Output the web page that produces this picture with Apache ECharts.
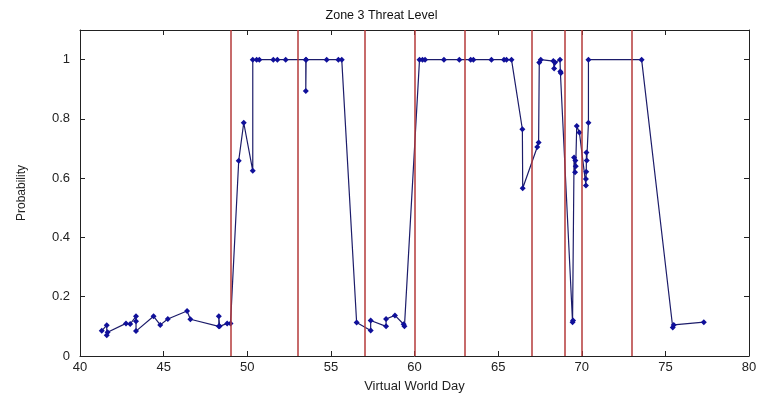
<!DOCTYPE html>
<html>
<head>
<meta charset="utf-8">
<script src="https://cdn.jsdelivr.net/npm/echarts@6/dist/echarts.min.js"></script>
<style>
html,body{margin:0;padding:0;background:#fff;}
#chart{width:763px;height:398px;}
</style>
</head>
<body>
<div id="chart"></div>
<script>
const title = "Zone 3 Threat Level";
const xLabel = "Virtual World Day";
const yLabel = "Probability";

const days = [41.3, 41.6, 41.6, 41.65, 42.75, 43.0, 43.35, 43.35, 43.35, 44.4, 44.8, 45.25, 46.4, 46.6,
  48.3, 48.3, 48.35, 48.8, 49.0, 49.49, 49.79, 50.33, 50.33, 50.56, 50.72, 51.56, 51.8, 52.3,
  53.5, 53.5, 53.52, 54.75, 55.45, 55.65, 56.54, 57.38, 57.38, 58.3, 58.3, 58.83, 59.35, 59.4,
  60.3, 60.48, 60.63, 61.76, 62.68, 63.36, 63.52, 64.6, 65.35, 65.5, 65.8,
  66.45, 66.47, 67.34, 67.42, 67.46, 67.55, 68.3, 68.35, 68.4, 68.7, 68.72, 68.75,
  69.45, 69.48, 69.54, 69.6, 69.62, 69.64, 69.7, 69.86, 70.25, 70.25, 70.27, 70.28, 70.3, 70.4, 70.4,
  73.58, 75.44, 75.5, 77.3];
const probs = [0.085, 0.104, 0.07, 0.08, 0.11, 0.108, 0.134, 0.117, 0.084, 0.134, 0.105, 0.125, 0.152, 0.124,
  0.1, 0.134, 0.1, 0.11, 0.11, 0.659, 0.787, 0.625, 1.0, 1.0, 1.0, 1.0, 1.0, 1.0,
  1.0, 0.894, 1.0, 1.0, 1.0, 1.0, 0.113, 0.086, 0.12, 0.1, 0.125, 0.137, 0.107, 0.1,
  1.0, 1.0, 1.0, 1.0, 1.0, 1.0, 1.0, 1.0, 1.0, 1.0, 1.0,
  0.765, 0.566, 0.705, 0.72, 0.99, 1.0, 0.995, 0.97, 0.99, 1.0, 0.96, 0.955,
  0.114, 0.12, 0.67, 0.62, 0.66, 0.64, 0.776, 0.754, 0.575, 0.597, 0.622, 0.687, 0.66, 0.787, 1.0,
  1.0, 0.096, 0.105, 0.114];
const redLines = [49, 53, 57, 60, 63, 67, 69, 70, 73];
const xTicks = [40, 45, 50, 55, 60, 65, 70, 75, 80];
const yTicks = [0, 0.2, 0.4, 0.6, 0.8, 1];

const chart = echarts.init(document.getElementById('chart'));
const font = '"Liberation Sans", Arial, sans-serif';
const tickStyle = {show: true, inside: true, length: 5, lineStyle: {color: '#222', width: 1}};
chart.setOption({
  animation: false,
  backgroundColor: '#fff',
  title: {text: title, left: 'center', top: 4, textStyle: {fontFamily: font, fontSize: 12.5, fontWeight: 'normal', color: '#111'}},
  grid: {left: 80, right: 14, top: 30, bottom: 40},
  xAxis: [{
    type: 'value', min: xTicks[0], max: xTicks[xTicks.length - 1], interval: 5,
    name: xLabel, nameLocation: 'middle', nameGap: 24,
    nameTextStyle: {fontFamily: font, fontSize: 13, color: '#222'},
    axisLine: {show: true, lineStyle: {color: '#222', width: 1}},
    axisTick: tickStyle, splitLine: {show: false},
    axisLabel: {fontFamily: font, fontSize: 13, color: '#222', margin: 5}
  }, {
    type: 'value', position: 'top', min: 40, max: 80, interval: 5,
    axisLine: {show: true, onZero: false, lineStyle: {color: '#222', width: 1}},
    axisTick: tickStyle, axisLabel: {show: false}, splitLine: {show: false}
  }],
  yAxis: [{
    type: 'value', min: 0, max: 1.1, interval: 0.2,
    name: yLabel, nameLocation: 'middle', nameGap: 52,
    nameTextStyle: {fontFamily: font, fontSize: 12, color: '#222'},
    axisLine: {show: true, lineStyle: {color: '#222', width: 1}},
    axisTick: tickStyle, splitLine: {show: false},
    axisLabel: {fontFamily: font, fontSize: 13, color: '#222', margin: 10, showMaxLabel: false,
      formatter: v => (yTicks.some(t => Math.abs(t - v) < 1e-9) ? String(+v.toFixed(1)) : '')}
  }, {
    type: 'value', position: 'right', min: 0, max: 1.1, interval: 0.2,
    axisLine: {show: true, onZero: false, lineStyle: {color: '#222', width: 1}},
    axisTick: tickStyle, axisLabel: {show: false}, splitLine: {show: false}
  }],
  series: [{
    type: 'line',
    data: days.map((d, i) => [d, probs[i]]),
    symbol: 'diamond', symbolSize: 6,
    lineStyle: {color: '#1c1c6a', width: 1.2},
    itemStyle: {color: '#10109a'},
    z: 3,
    markLine: {
      silent: true, symbol: 'none', label: {show: false},
      lineStyle: {color: '#b43a3a', width: 1.5, type: 'solid'},
      data: redLines.map(v => ({xAxis: v}))
    }
  }]
});
</script>
</body>
</html>
